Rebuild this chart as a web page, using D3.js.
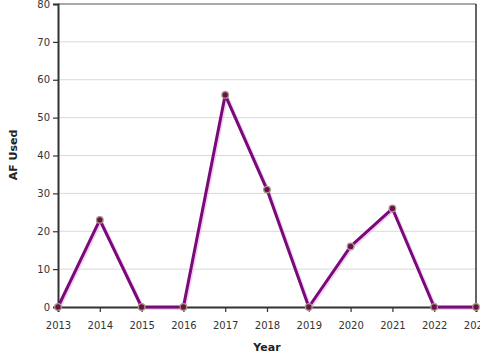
<!DOCTYPE html>
<html><head><meta charset="utf-8">
<script src="https://cdn.jsdelivr.net/npm/d3@7"></script>
<style>body{margin:0;background:#fff;} text{font-family:"DejaVu Sans",sans-serif;}</style>
</head><body><svg id="c" width="480" height="360"></svg>
<script>
const years = [2013,2014,2015,2016,2017,2018,2019,2020,2021,2022,2023];
const afUsed = [0,23,0,0,56,31,0,16,26,0,0];
const yTicks = [0,10,20,30,40,50,60,70,80];

const W=480,H=360,m={l:58,r:4,t:4,b:53};
const svg=d3.select("#c");
const x=d3.scaleLinear().domain([2013,2023]).range([m.l,W-m.r]);
const y=d3.scaleLinear().domain([0,80]).range([H-m.b,m.t]);

// grid
svg.append("g").selectAll("line").data(yTicks.slice(1)).join("line")
  .attr("x1",m.l).attr("x2",W-m.r).attr("y1",d=>y(d)).attr("y2",d=>y(d))
  .attr("stroke",d=>d===80?"#555":"#d9d9d9").attr("stroke-width",d=>d===80?1.2:1);

// right border
svg.append("line").attr("x1",W-m.r).attr("x2",W-m.r).attr("y1",m.t).attr("y2",H-m.b)
  .attr("stroke","#333").attr("stroke-width",1.5);

const ya=svg.append("g").attr("transform",`translate(${m.l},0)`)
  .call(d3.axisLeft(y).tickValues(yTicks).tickSize(5).tickPadding(3));
const xa=svg.append("g").attr("transform",`translate(0,${H-m.b})`)
  .call(d3.axisBottom(x).tickValues(years).tickFormat(d3.format("d")).tickSize(5).tickPadding(10));
[ya,xa].forEach(a=>{
  a.select(".domain").attr("stroke","#333").attr("stroke-width",2);
  a.selectAll(".tick line").attr("stroke","#333").attr("stroke-width",1.2);
  a.selectAll(".tick text").attr("fill","#333").style("font-size","10px");
});

const line=d3.line().x((d,i)=>x(years[i])).y(d=>y(d));
svg.append("path").datum(afUsed).attr("d",line).attr("fill","none")
  .attr("stroke","#e6b3e6").attr("stroke-width",4).attr("transform","translate(1,1)").attr("opacity",0.6);
svg.append("path").datum(afUsed).attr("d",line).attr("fill","none")
  .attr("stroke","#7a0a7a").attr("stroke-width",3).attr("stroke-linejoin","round");
svg.append("g").selectAll("circle").data(afUsed).join("circle")
  .attr("cx",(d,i)=>x(years[i])).attr("cy",d=>y(d)).attr("r",3.3)
  .attr("fill","#6a1050").attr("stroke","#a89a80").attr("stroke-width",1.3);

svg.append("text").attr("x",267).attr("y",351).attr("text-anchor","middle")
  .style("font-size","11px").style("font-weight","bold").attr("fill","#222").text("Year");
svg.append("text").attr("transform","translate(17,155) rotate(-90)").attr("text-anchor","middle")
  .style("font-size","11px").style("font-weight","bold").attr("fill","#222").text("AF Used");
</script></body></html>
